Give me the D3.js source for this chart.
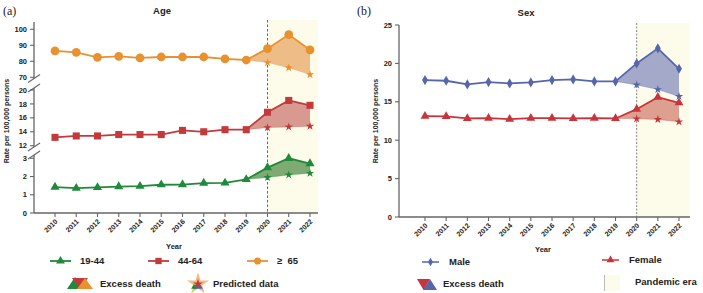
<!DOCTYPE html>
<html>
<head>
<meta charset="utf-8">
<script src="https://cdn.jsdelivr.net/npm/d3@7"></script>
<style>
  body { margin:0; background:#fff; }
  svg text { font-family: "Liberation Sans", Arial, sans-serif; font-weight:bold; fill:#222; }
</style>
</head>
<body>
<div id="chart"></div>
<script>
/* excess death by age and sex, two panels with broken axis on the left */

const YEARS = [2010,2011,2012,2013,2014,2015,2016,2017,2018,2019,2020,2021,2022];
const PRED_YEARS = [2019,2020,2021,2022];

// panel (a) – age groups
const AGE_19_44 = [1.42,1.36,1.40,1.45,1.47,1.55,1.56,1.64,1.65,1.84,2.49,3.00,2.71];
const AGE_44_64 = [13.2,13.4,13.4,13.6,13.6,13.6,14.2,14.0,14.3,14.3,16.8,18.5,17.8];
const AGE_65    = [86.5,85.6,82.5,83.1,82.1,82.7,82.7,82.7,81.5,80.8,87.9,96.7,87.1];
const PRED_19_44 = [1.84,1.95,2.09,2.18];
const PRED_44_64 = [14.3,14.6,14.7,14.8];
const PRED_65    = [80.8,79.2,76.0,71.7];

// panel (b) – sex
const MALE   = [17.83,17.74,17.26,17.57,17.39,17.52,17.83,17.91,17.65,17.65,20.0,21.96,19.3];
const FEMALE = [13.13,13.09,12.83,12.87,12.74,12.87,12.87,12.83,12.87,12.83,14.04,15.6,14.87];
const PRED_MALE   = [17.65,17.2,16.6,15.7];
const PRED_FEMALE = [12.83,12.78,12.7,12.4];

const TICKS_65 = [70,80,90,100];
const TICKS_4464 = [12,14,16,18,20];
const TICKS_1944 = [0,1,2,3];
const TICKS_SEX = [0,5,10,15,20,25];

const C = {
  green:"#1f8a3b", greenFill:"#7fab72",
  red:"#c23a3c", redFill:"#d89a90",
  orange:"#e8922f", orangeFill:"#eebd87",
  blue:"#5566ad", blueFill:"#a5a9c9",
  fred:"#c9343a", fredFill:"#dd9f90",
  pandemic:"#fdfbea", axis:"#666"
};

const W = 703, H = 293;
const svg = d3.select("#chart").append("svg").attr("width",W).attr("height",H);

const star = d3.symbol().type(d3.symbolStar);
const sym = (type,size) => d3.symbol().type(type).size(size)();

/* ---------- helpers ---------- */
function xAxis(g, x, axisX, x1, y0){
  g.append("line").attr("x1",axisX).attr("x2",x1).attr("y1",y0).attr("y2",y0)
    .attr("stroke",C.axis).attr("stroke-width",1.3);
  YEARS.forEach(yr=>{
    g.append("line").attr("x1",x(yr)).attr("x2",x(yr)).attr("y1",y0).attr("y2",y0+4)
      .attr("stroke",C.axis).attr("stroke-width",1.1);
    g.append("text").attr("transform",`translate(${x(yr)+3},${y0+9}) rotate(-45)`)
      .attr("text-anchor","end").style("font-size","7px").text(yr);
  });
}

function yAxisSeg(g, y, ticks, axisX, top, bottom, breakTop, breakBottom){
  g.append("line").attr("x1",axisX).attr("x2",axisX).attr("y1",top).attr("y2",bottom)
    .attr("stroke",C.axis).attr("stroke-width",1.3);
  ticks.forEach(t=>{
    g.append("line").attr("x1",axisX-4).attr("x2",axisX).attr("y1",y(t)).attr("y2",y(t))
      .attr("stroke",C.axis).attr("stroke-width",1.1);
    g.append("text").attr("x",axisX-7).attr("y",y(t)).attr("dy","0.35em")
      .attr("text-anchor","end").style("font-size","7.5px").text(t);
  });
  const slash = yy => g.append("line").attr("x1",axisX-6).attr("x2",axisX+6)
      .attr("y1",yy+4).attr("y2",yy-4).attr("stroke",C.axis).attr("stroke-width",1.1);
  if(breakTop) slash(top);
  if(breakBottom) slash(bottom);
}

function series(g, x, y, vals, pred, color, fill, marker){
  const pts = YEARS.map((yr,i)=>[x(yr),y(vals[i])]);
  const pp  = PRED_YEARS.map((yr,i)=>[x(yr),y(pred[i])]);
  const actualTail = PRED_YEARS.map(yr=>[x(yr),y(vals[YEARS.indexOf(yr)])]);
  const poly = actualTail.concat(pp.slice().reverse());
  g.append("path").attr("d",d3.line()(poly)+"Z").attr("fill",fill).attr("stroke","none");
  g.append("path").attr("d",d3.line()(pp)).attr("fill","none")
    .attr("stroke",color).attr("stroke-opacity",0.35).attr("stroke-width",0.8);
  g.append("path").attr("d",d3.line()(pts)).attr("fill","none")
    .attr("stroke",color).attr("stroke-width",1.8);
  pts.forEach(p=>g.append("path").attr("d",marker)
    .attr("transform",`translate(${p[0]},${p[1]})`).attr("fill",color));
  pp.slice(1).forEach(p=>g.append("path").attr("d",star.size(22)())
    .attr("transform",`translate(${p[0]},${p[1]})`).attr("fill",color));
}

/* ---------- panel (a) ---------- */
const ga = svg.append("g");
const xa = d3.scalePoint(YEARS,[55,310]);
const axA = 34, baseA = 213;
ga.append("rect").attr("x",xa(2020)).attr("y",20).attr("width",318-xa(2020)).attr("height",baseA-20)
  .attr("fill",C.pandemic);
ga.append("line").attr("x1",xa(2020)).attr("x2",xa(2020)).attr("y1",20).attr("y2",baseA)
  .attr("stroke","#555").attr("stroke-width",0.9).attr("stroke-dasharray","2.5,2");

const y65   = d3.scaleLinear([70,100],[77.3,29.3]);
const y4464 = d3.scaleLinear([12,20],[145.7,90]);
const y1944 = d3.scaleLinear([0,3],[213,158.3]);
yAxisSeg(ga, y65, TICKS_65, axA, 22, 78.5, false, true);
yAxisSeg(ga, y4464, TICKS_4464, axA, 88, 147, true, true);
yAxisSeg(ga, y1944, TICKS_1944, axA, 155, baseA, true, false);
xAxis(ga, xa, axA, 318, baseA);

series(ga, xa, y65, AGE_65, PRED_65, C.orange, C.orangeFill, sym(d3.symbolCircle,60));
series(ga, xa, y4464, AGE_44_64, PRED_44_64, C.red, C.redFill, sym(d3.symbolSquare,50));
series(ga, xa, y1944, AGE_19_44, PRED_19_44, C.green, C.greenFill, sym(d3.symbolTriangle,36));

ga.append("text").attr("x",162).attr("y",14).attr("text-anchor","middle").style("font-size","9.5px").text("Age");
ga.append("text").attr("x",3).attr("y",15).style("font-family","'Liberation Serif',serif")
  .style("font-weight","normal").style("font-size","12px").text("(a)");
ga.append("text").attr("transform","translate(9,121) rotate(-90)").attr("text-anchor","middle")
  .style("font-size","7px").text("Rate per 100,000 persons");
ga.append("text").attr("x",174).attr("y",249).attr("text-anchor","middle").style("font-size","7.5px").text("Year");

/* legend (a) */
const legA = [
  {label:"19-44", color:C.green, m:sym(d3.symbolTriangle,34), x:50},
  {label:"44-64", color:C.red, m:sym(d3.symbolSquare,40), x:148},
  {label:"\u2265  65", color:C.orange, m:sym(d3.symbolCircle,40), x:247}
];
legA.forEach(d=>{
  ga.append("line").attr("x1",d.x).attr("x2",d.x+21).attr("y1",261).attr("y2",261)
    .attr("stroke",d.color).attr("stroke-width",1.8);
  ga.append("path").attr("d",d.m).attr("transform",`translate(${d.x+10.5},261)`).attr("fill",d.color);
  ga.append("text").attr("x",d.x+30).attr("y",261).attr("dy","0.35em").style("font-size","9.5px")
    .style("white-space","pre").text(d.label);
});
// excess death icon: three overlapping triangles
ga.append("path").attr("d","M67,289 L75,277 L83,289 Z").attr("fill",C.green);
ga.append("path").attr("d","M72,278 L80,289 L88,278 Z").attr("fill",C.red);
ga.append("path").attr("d","M77,289 L85,278 L93,289 Z").attr("fill",C.orange);
ga.append("text").attr("x",100).attr("y",284).attr("dy","0.35em").style("font-size","9.5px").text("Excess death");
// predicted icon: layered star
ga.append("path").attr("d",star.size(150)()).attr("transform","translate(198,284)").attr("fill",C.orange).attr("opacity",0.6);
ga.append("path").attr("d",sym(d3.symbolTriangle,40)).attr("transform","translate(198,286)").attr("fill","#4a67b0");
ga.append("path").attr("d",star.size(30)()).attr("transform","translate(198,284)").attr("fill",C.red);
ga.append("path").attr("d",sym(d3.symbolTriangle,14)).attr("transform","translate(194,287)").attr("fill",C.green);
ga.append("text").attr("x",213).attr("y",284).attr("dy","0.35em").style("font-size","9.5px").text("Predicted data");

/* ---------- panel (b) ---------- */
const gb = svg.append("g");
const xb = d3.scalePoint(YEARS,[425,679]);
const axB = 399, baseB = 217;
gb.append("rect").attr("x",xb(2020)).attr("y",23).attr("width",690-xb(2020)).attr("height",baseB-23)
  .attr("fill",C.pandemic);
gb.append("line").attr("x1",xb(2020)).attr("x2",xb(2020)).attr("y1",23).attr("y2",baseB)
  .attr("stroke","#777").attr("stroke-width",0.9).attr("stroke-dasharray","2,1.5");
const ys = d3.scaleLinear([0,25],[baseB,25]);
yAxisSeg(gb, ys, TICKS_SEX, axB, 25, baseB, false, false);
xAxis(gb, xb, axB, 690, baseB);

series(gb, xb, ys, MALE, PRED_MALE, C.blue, C.blueFill, sym(d3.symbolDiamond,30));
series(gb, xb, ys, FEMALE, PRED_FEMALE, C.fred, C.fredFill, sym(d3.symbolTriangle,34));

gb.append("text").attr("x",526).attr("y",16).attr("text-anchor","middle").style("font-size","9.5px").text("Sex");
gb.append("text").attr("x",357).attr("y",15).style("font-family","'Liberation Serif',serif")
  .style("font-weight","normal").style("font-size","12px").text("(b)");
gb.append("text").attr("transform","translate(378,121) rotate(-90)").attr("text-anchor","middle")
  .style("font-size","7px").text("Rate per 100,000 persons");
gb.append("text").attr("x",543).attr("y",252).attr("text-anchor","middle").style("font-size","7.5px").text("Year");

/* legend (b) */
const legB = [
  {label:"Male", color:C.blue, m:sym(d3.symbolDiamond,22), x:422, tx:449, y:262},
  {label:"Female", color:C.fred, m:sym(d3.symbolTriangle,26), x:602, tx:629, y:260}
];
legB.forEach(d=>{
  gb.append("line").attr("x1",d.x).attr("x2",d.x+17).attr("y1",d.y).attr("y2",d.y)
    .attr("stroke",d.color).attr("stroke-width",1.5);
  gb.append("path").attr("d",d.m).attr("transform",`translate(${d.x+8.5},${d.y})`).attr("fill",d.color);
  gb.append("text").attr("x",d.tx).attr("y",d.y).attr("dy","0.35em").style("font-size","9.5px").text(d.label);
});
gb.append("path").attr("d","M417,279 L430,279 L423.5,290 Z").attr("fill",C.fred);
gb.append("path").attr("d","M423,290 L430,279 L437,290 Z").attr("fill",C.blue);
gb.append("text").attr("x",443).attr("y",284).attr("dy","0.35em").style("font-size","9.5px").text("Excess death");
gb.append("rect").attr("x",604).attr("y",275).attr("width",16).attr("height",16).attr("fill",C.pandemic);
gb.append("line").attr("x1",604.5).attr("x2",604.5).attr("y1",275).attr("y2",291).attr("stroke","#bbb");
gb.append("text").attr("x",635).attr("y",282).attr("dy","0.35em").style("font-size","9.5px").text("Pandemic era");
</script>
</body>
</html>
